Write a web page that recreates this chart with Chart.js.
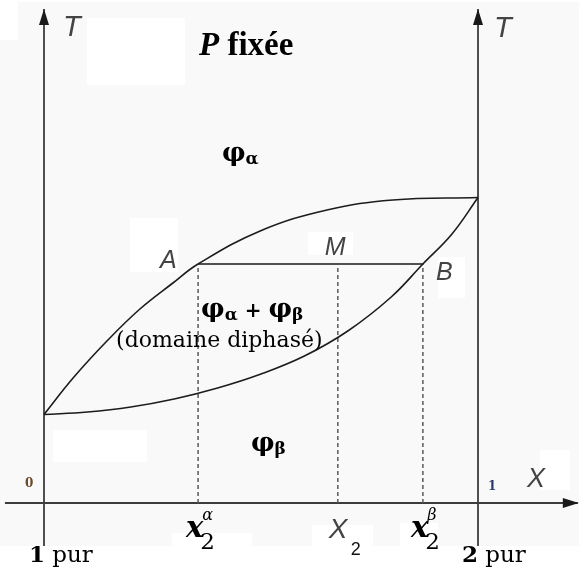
<!DOCTYPE html>
<html>
<head>
<meta charset="utf-8">
<script src="https://cdn.jsdelivr.net/npm/chart.js@4.4.1/dist/chart.umd.min.js"></script>
<style>
  html, body { margin: 0; padding: 0; background: #fff; }
  #diagram { display: block; }
</style>
</head>
<body>
<canvas id="diagram" width="579" height="579"></canvas>
<script>
// --- DATA (composition X2 of component 2, temperature T in arbitrary units) ---
const liquidusX = [0, 0.067, 0.145, 0.221, 0.297, 0.355, 0.498, 0.652, 0.804, 1];
const liquidusT = [0.885, 1.25, 1.62, 1.94, 2.20, 2.39, 2.72, 2.93, 3.03, 3.055];

const solidusX = [0, 0.1, 0.2, 0.3, 0.4, 0.5, 0.6, 0.7, 0.8, 0.873, 0.94, 1];
const solidusT = [0.885, 0.91, 0.96, 1.04, 1.15, 1.29, 1.47, 1.72, 2.06, 2.39, 2.69, 3.055];

// tie line A-B at temperature tieT, overall composition M in between
const tieT = 2.39;
const tieX = [0.355, 0.873];
const compM = 0.677;

// dashed drop lines and their tick labels
const tickX = [0.355, 0.677, 0.873];
const tickNames = ['alpha', 'X2', 'beta'];

// axis extents
const axisT = [-0.43, 4.94];
const axisX = [-0.09, 1.23];

const X_MIN = -0.1014, X_MAX = 1.2327;
const T_MIN = -0.76, T_MAX = 5.03;

const SERIF = '"DejaVu Serif"';
const SANS = '"Liberation Sans"';

function pts(xs, ts) {
    return xs.map((x, i) => ({ x: x, y: Array.isArray(ts) ? ts[i] : ts }));
}

function line(data, color, width, dash) {
    return {
        data: data,
        borderColor: color,
        borderWidth: width,
        borderDash: dash || [],
        pointRadius: 0,
        showLine: true,
        fill: false,
        clip: false
    };
}

const datasets = [
    { ...line(pts(liquidusX, liquidusT), '#1c1c1c', 1.6), tension: 0.4 },
    { ...line(pts(solidusX, solidusT), '#1c1c1c', 1.6), tension: 0.4 },
    line(pts(tieX, tieT), '#505050', 2.2)
];
tickX.forEach(x => datasets.push(line([{ x: x, y: 0 }, { x: x, y: tieT }], '#5a5a5a', 1.5, [4, 3])));
datasets.push(line([{ x: 0, y: axisT[0] }, { x: 0, y: axisT[1] }], '#3c3c3c', 1.8));
datasets.push(line([{ x: 1, y: axisT[0] }, { x: 1, y: axisT[1] }], '#3c3c3c', 1.8));
datasets.push(line([{ x: axisX[0], y: 0 }, { x: axisX[1], y: 0 }], '#3c3c3c', 1.8));

// --- page background: light grey sheet with white cut-outs ---
const backdrop = {
    id: 'backdrop',
    beforeDraw(chart) {
        const ctx = chart.ctx;
        ctx.save();
        ctx.fillStyle = '#ffffff';
        ctx.fillRect(0, 0, chart.width, chart.height);
        ctx.fillStyle = '#f9f9f9';
        ctx.fillRect(0, 2, chart.width, 544);
        ctx.fillStyle = '#ffffff';
        [[0, 0, 18, 40], [87, 18, 98, 67], [130, 218, 48, 54], [308, 232, 45, 23],
         [438, 257, 27, 41], [53, 430, 94, 32], [540, 450, 30, 40],
         [172, 533, 80, 14], [312, 525, 61, 22], [400, 523, 38, 24]]
            .forEach(r => ctx.fillRect(r[0], r[1], r[2], r[3]));
        ctx.restore();
    }
};

// arrow heads at the ends of the axes
const arrows = {
    id: 'arrows',
    afterDatasetsDraw(chart) {
        const ctx = chart.ctx;
        const xs = chart.scales.x, ys = chart.scales.y;
        ctx.save();
        ctx.fillStyle = '#1a1a1a';
        [0, 1].forEach(v => {
            const px = xs.getPixelForValue(v), py = ys.getPixelForValue(axisT[1]);
            ctx.beginPath();
            ctx.moveTo(px, py);
            ctx.lineTo(px - 5, py + 16);
            ctx.lineTo(px + 5, py + 16);
            ctx.closePath();
            ctx.fill();
        });
        const ax = xs.getPixelForValue(axisX[1]), ay = ys.getPixelForValue(0);
        ctx.beginPath();
        ctx.moveTo(ax + 1, ay);
        ctx.lineTo(ax - 15, ay - 5);
        ctx.lineTo(ax - 15, ay + 5);
        ctx.closePath();
        ctx.fill();
        ctx.restore();
    }
};

// writes a run of text pieces (font, vertical shift) left to right
function run(ctx, parts, x, y, color) {
    ctx.fillStyle = color || '#000';
    parts.forEach(p => {
        ctx.font = p.font;
        ctx.fillText(p.t, x + (p.dx || 0), y + (p.dy || 0));
        x += ctx.measureText(p.t).width + (p.dx || 0);
    });
    return x;
}

function phi(sub) {
    return [
        { t: 'φ', font: 'bold 26px ' + SERIF },
        { t: sub, font: 'bold 17px ' + SERIF, dy: 3 }
    ];
}

function molFrac(ctx, x, y, sup) {
    ctx.fillStyle = '#000';
    ctx.font = 'italic bold 29px ' + SERIF;
    ctx.fillText('x', x, y);
    const w = ctx.measureText('x').width;
    ctx.font = '23px ' + SERIF;
    ctx.fillText('2', x + w - 3, y + 12);
    ctx.font = 'italic 16px ' + SERIF;
    ctx.fillText(sup, x + w - 1, y - 17);
}

const labels = {
    id: 'labels',
    afterDraw(chart) {
        const ctx = chart.ctx;
        const xs = chart.scales.x, ys = chart.scales.y;
        const px = v => xs.getPixelForValue(v);
        const py = v => ys.getPixelForValue(v);
        ctx.save();
        ctx.textBaseline = 'alphabetic';
        const grey = '#444';

        // axis names
        ctx.fillStyle = grey;
        ctx.font = 'italic 29px ' + SANS;
        ctx.fillText('T', px(0) + 19, 36);
        ctx.fillText('T', px(1) + 16, 37);
        ctx.font = 'italic 27px ' + SANS;
        ctx.fillText('X', px(1) + 49, py(0) - 16);

        // title
        run(ctx, [
            { t: 'P', font: 'italic bold 33px "Liberation Serif"' },
            { t: ' fixée', font: 'bold 33px "Liberation Serif"' }
        ], 199, 55, '#000');

        // phase regions
        run(ctx, phi('α'), px(0.41), py(3.42));
        run(ctx, phi('α').concat([{ t: ' + ', font: 'bold 20px ' + SERIF }], phi('β')), px(0.362), py(1.86));
        ctx.fillStyle = '#000';
        ctx.font = '22px ' + SERIF;
        ctx.fillText('(domaine diphasé)', px(0.166), py(1.56));
        run(ctx, phi('β'), px(0.477), py(0.52));

        // points on the tie line
        ctx.fillStyle = grey;
        ctx.font = 'italic 25px ' + SANS;
        ctx.fillText('A', px(tieX[0]) - 38, py(tieT) + 4);
        ctx.fillText('M', px(compM) - 13, py(tieT) - 9);
        ctx.fillText('B', px(tieX[1]) + 13, py(tieT) + 16);

        // pure component ends
        ctx.font = 'bold 12px ' + SERIF;
        ctx.fillStyle = '#6b4a2a';
        ctx.fillText('0', px(0) - 19, py(0) - 16);
        ctx.fillStyle = '#2a3a6b';
        ctx.fillText('1', px(1) + 10, py(0) - 13);

        // tick labels under the composition axis
        tickNames.forEach((name, i) => {
            const x = px(tickX[i]);
            if (name === 'X2') {
                ctx.fillStyle = grey;
                ctx.font = 'italic 28px ' + SANS;
                ctx.fillText('X', x - 9, 538);
                ctx.fillStyle = '#111';
                ctx.font = '18px ' + SANS;
                ctx.fillText('2', x + 13, 555);
            } else {
                molFrac(ctx, x - 12, 537, name === 'alpha' ? 'α' : 'β');
            }
        });

        run(ctx, [
            { t: '1', font: 'bold 23px ' + SERIF },
            { t: ' pur', font: '23px ' + SERIF }
        ], px(0) - 15, 562, '#000');
        run(ctx, [
            { t: '2', font: 'bold 23px ' + SERIF },
            { t: ' pur', font: '23px ' + SERIF }
        ], px(1) - 16, 562, '#000');

        ctx.restore();
    }
};

new Chart(document.getElementById('diagram'), {
    type: 'scatter',
    data: { datasets: datasets },
    options: {
        responsive: false,
        animation: false,
        events: [],
        layout: { padding: 0 },
        plugins: { legend: { display: false }, tooltip: { enabled: false } },
        scales: {
            x: { type: 'linear', min: X_MIN, max: X_MAX, display: false },
            y: { type: 'linear', min: T_MIN, max: T_MAX, display: false }
        }
    },
    plugins: [backdrop, arrows, labels]
});
</script>
</body>
</html>
